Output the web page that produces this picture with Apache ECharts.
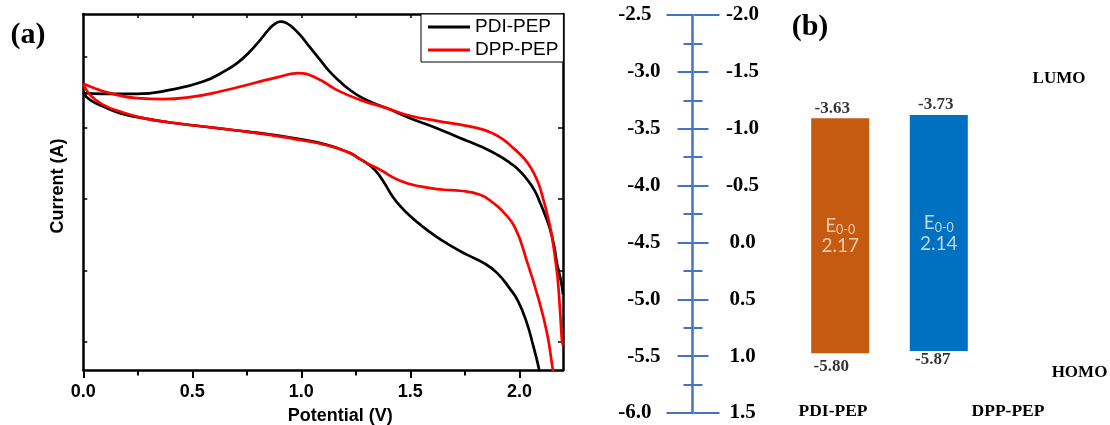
<!DOCTYPE html>
<html><head><meta charset="utf-8">
<script src="https://cdn.jsdelivr.net/npm/echarts@6/dist/echarts.min.js"></script>
<style>html,body{margin:0;padding:0;background:#fff}#c{width:1110px;height:425px}</style>
</head><body><div id="c"></div>
<script>
// ---------- Panel (a): cyclic voltammetry (potential V, current in arbitrary units) ----------
const seriesNames = ['PDI-PEP', 'DPP-PEP'];
const pdiForward = [[0,3.488],[0.092,3.478],[0.245,3.478],[0.398,3.534],[0.55,3.651],[0.658,3.815],[0.71,3.92],[0.76,4.06],[0.81,4.23],[0.85,4.38],[0.88,4.465],[0.905,4.492],[0.93,4.475],[0.96,4.41],[0.994,4.306],[1.04,4.13],[1.086,3.955],[1.13,3.79],[1.177,3.651],[1.22,3.54],[1.269,3.44],[1.33,3.35],[1.392,3.278],[1.499,3.137],[1.621,2.997],[1.728,2.857],[1.79,2.78],[1.85,2.70],[1.9,2.62],[1.942,2.54],[1.99,2.43],[2.034,2.28],[2.07,2.12],[2.095,1.95],[2.12,1.76],[2.141,1.571],[2.16,1.33],[2.172,1.104],[2.185,0.93],[2.195,0.776],[2.2,0.66]];
const pdiReverse = [[2.095,-0.5],[2.087,-0.346],[2.064,-0.066],[2.034,0.262],[1.995,0.56],[1.957,0.74],[1.896,0.968],[1.835,1.104],[1.759,1.22],[1.682,1.35],[1.606,1.50],[1.55,1.63],[1.5,1.76],[1.46,1.88],[1.42,2.03],[1.38,2.23],[1.34,2.40],[1.3,2.506],[1.26,2.58],[1.223,2.647],[1.117,2.763],[0.963,2.857],[0.811,2.927],[0.704,2.964],[0.55,3.02],[0.398,3.076],[0.275,3.137],[0.168,3.208],[0.092,3.3],[0.031,3.394],[0,3.488]];
const dppForward = [[0,3.619],[0.054,3.555],[0.122,3.488],[0.245,3.418],[0.367,3.404],[0.489,3.432],[0.627,3.511],[0.78,3.628],[0.902,3.721],[0.986,3.769],[1.071,3.698],[1.162,3.534],[1.269,3.394],[1.392,3.278],[1.499,3.17],[1.621,3.1],[1.759,3.029],[1.83,2.98],[1.88,2.92],[1.925,2.84],[1.96,2.75],[2.003,2.63],[2.035,2.52],[2.064,2.38],[2.09,2.2],[2.11,1.992],[2.13,1.76],[2.148,1.501],[2.166,1.122],[2.176,0.87],[2.187,0.407],[2.195,0.028],[2.2,-0.056]];
const dppReverse = [[2.16,-0.5],[2.152,-0.365],[2.127,0.112],[2.086,0.617],[2.035,1.122],[1.98,1.599],[1.925,1.823],[1.881,1.945],[1.82,2.062],[1.728,2.118],[1.651,2.132],[1.545,2.178],[1.453,2.258],[1.361,2.412],[1.3,2.506],[1.26,2.58],[1.223,2.647],[1.117,2.756],[0.963,2.847],[0.856,2.903],[0.704,2.964],[0.55,3.02],[0.398,3.076],[0.275,3.137],[0.168,3.23],[0.092,3.324],[0.031,3.464],[0,3.619]];
const xTickValues = [0, 0.5, 1, 1.5, 2];
const xMinorTickValues = [0.25, 0.75, 1.25, 1.75];
const xTopTickValues = [0.25, 0.5, 0.75, 1, 1.25, 1.5, 1.75, 2];
const yTickValues = [0, 1, 2, 3, 4];

// ---------- Panel (b): energy level diagram ----------
const energyEndTicks = [-6, -2.5];          // eV scale (left)
const energyMidLabels = [-5.5, -5, -4.5, -4, -3.5, -3];
const compounds = ['PDI-PEP', 'DPP-PEP'];
const barTop = [-3.408, -3.379];            // bar ends as drawn on the eV scale
const barBottom = [-5.475, -5.455];
const lumoText = ['-3.63', '-3.73'];
const homoText = ['-5.80', '-5.87'];
const gapText = ['2.17', '2.14'];
const levelNames = ['LUMO', 'HOMO'];

const chart = echarts.init(document.getElementById('c'), null, {renderer: 'canvas'});
const serif = 'Liberation Serif', sans = 'Liberation Sans';
const blue = '#4472C4';
const barColors = ['#C55A11', '#0070C0'];
const gapColors = ['#F8CBAD', '#BDD7EE'];
const lumoOffsets = [[-8, 0], [-3, 0]];
const homoOffsets = [[-9, 0], [-6, 0]];
const homoDist = [4, 0];
const fmt1 = v => (Math.abs(v) < 1e-9 ? 0 : Number(v)).toFixed(1);

function cv(name, data, color) {
  return {type: 'line', name, data, xAxisIndex: 0, yAxisIndex: 0, symbol: 'none', showSymbol: false,
    smooth: 0.5, clip: true, lineStyle: {color, width: 2.7}, itemStyle: {color}, z: 3, silent: true};
}

const option = {
  animation: false,
  backgroundColor: '#fff',
  textStyle: {fontFamily: sans},
  grid: [
    {left: 83.3, top: 14, width: 479.7, height: 356, outerBoundsMode: 'none', containLabel: false},
    {left: 692.5, top: 15, width: 1, height: 398, outerBoundsMode: 'none', containLabel: false},
    {left: 790.9, top: 15, width: 197.2, height: 398, outerBoundsMode: 'none', containLabel: false}
  ],
  legend: {
    data: seriesNames, orient: 'vertical', left: 421, top: 14,
    padding: [3, 5, 2, 7], itemGap: 3, itemWidth: 42, itemHeight: 3, icon: 'rect',
    borderColor: '#000', borderWidth: 1, backgroundColor: '#fff', borderRadius: 0,
    textStyle: {fontFamily: sans, fontSize: 19, color: '#000', lineHeight: 20},
    selectedMode: false
  },
  xAxis: [
    {gridIndex: 0, type: 'value', position: 'bottom', min: 0, max: 2.2, interval: 0.5,
      axisLine: {show: true, onZero: false, lineStyle: {color: '#000', width: 2.5}},
      axisTick: {show: true, inside: false, length: 8, customValues: xTickValues, lineStyle: {color: '#000', width: 2}},
      axisLabel: {show: true, customValues: xTickValues, formatter: fmt1, margin: 13,
        fontFamily: sans, fontWeight: 'bold', fontSize: 18, color: '#000'},
      splitLine: {show: false},
      name: 'Potential (V)', nameLocation: 'middle', nameGap: 37, nameMoveOverlap: false,
      nameTextStyle: {fontFamily: sans, fontWeight: 'bold', fontSize: 18, color: '#000', padding: [0, 0, 0, 34]}},
    {gridIndex: 0, type: 'value', position: 'bottom', min: 0, max: 2.2,
      axisLine: {show: false, onZero: false}, axisLabel: {show: false}, splitLine: {show: false},
      axisTick: {show: true, inside: false, length: 5.5, customValues: xMinorTickValues, lineStyle: {color: '#000', width: 2}}},
    {gridIndex: 0, type: 'value', position: 'top', min: 0, max: 2.2,
      axisLine: {show: true, onZero: false, lineStyle: {color: '#000', width: 2.5}}, axisLabel: {show: false}, splitLine: {show: false},
      axisTick: {show: true, inside: true, length: 4, customValues: xTopTickValues, lineStyle: {color: '#000', width: 1.5}}},
    {gridIndex: 1, type: 'value', show: false, min: 0, max: 1, axisLine: {onZero: false}},
    {gridIndex: 2, type: 'category', show: false, data: compounds, axisLine: {onZero: false}}
  ],
  yAxis: [
    {gridIndex: 0, type: 'value', position: 'left', min: -0.4, max: 4.6,
      axisLine: {show: true, onZero: false, lineStyle: {color: '#000', width: 2.5}},
      axisTick: {show: true, inside: true, length: 4, customValues: yTickValues, lineStyle: {color: '#000', width: 1.5}},
      axisLabel: {show: false}, splitLine: {show: false},
      name: 'Current (A)', nameLocation: 'middle', nameGap: 16, nameMoveOverlap: false,
      nameTextStyle: {fontFamily: sans, fontWeight: 'bold', fontSize: 18, color: '#000', padding: [0, 0, 0, 12]}},
    {gridIndex: 0, type: 'value', position: 'right', min: -0.4, max: 4.6,
      axisLine: {show: true, onZero: false, lineStyle: {color: '#000', width: 2.5}},
      axisTick: {show: true, inside: true, length: 5, customValues: yTickValues, lineStyle: {color: '#000', width: 1.5}},
      axisLabel: {show: false}, splitLine: {show: false}},
    // eV scale (left)
    {gridIndex: 1, type: 'value', position: 'left', min: -6, max: -2.5, interval: 0.5,
      axisLine: {show: true, onZero: false, lineStyle: {color: blue, width: 2.5}},
      axisTick: {show: true, inside: false, length: 15, lineStyle: {color: blue, width: 2}},
      minorTick: {show: true, splitNumber: 2, length: 9, lineStyle: {color: blue, width: 2}},
      axisLabel: {show: true, customValues: energyMidLabels, formatter: fmt1, margin: 32,
        fontFamily: serif, fontWeight: 'bold', fontSize: 21, color: '#000'},
      splitLine: {show: false}, minorSplitLine: {show: false}},
    // potential scale (right)
    {gridIndex: 1, type: 'value', position: 'right', min: -2, max: 1.5, interval: 0.5, inverse: true,
      axisLine: {show: false, onZero: false},
      axisTick: {show: true, inside: false, length: 15, lineStyle: {color: blue, width: 2}},
      minorTick: {show: true, splitNumber: 2, length: 9, lineStyle: {color: blue, width: 2}},
      axisLabel: {show: true, formatter: fmt1, margin: 49, align: 'center',
        fontFamily: serif, fontWeight: 'bold', fontSize: 21, color: '#000'},
      splitLine: {show: false}, minorSplitLine: {show: false}},
    // long end ticks
    {gridIndex: 1, type: 'value', position: 'left', min: -6, max: -2.5,
      axisLine: {show: false, onZero: false},
      axisTick: {show: true, inside: false, length: 26, customValues: energyEndTicks, lineStyle: {color: blue, width: 2}},
      axisLabel: {show: true, customValues: energyEndTicks, formatter: fmt1, margin: 41,
        fontFamily: serif, fontWeight: 'bold', fontSize: 21, color: '#000'},
      splitLine: {show: false}},
    {gridIndex: 1, type: 'value', position: 'right', min: -6, max: -2.5,
      axisLine: {show: false, onZero: false}, axisLabel: {show: false}, splitLine: {show: false},
      axisTick: {show: true, inside: false, length: 26, customValues: energyEndTicks, lineStyle: {color: blue, width: 2}}},
    {gridIndex: 2, type: 'value', show: false, min: -6, max: -2.5, splitLine: {show: false}, axisLine: {onZero: false}}
  ],
  series: [
    cv(seriesNames[0], pdiForward, '#000'),
    cv(seriesNames[0], pdiReverse, '#000'),
    cv(seriesNames[1], dppForward, '#FF0000'),
    cv(seriesNames[1], dppReverse, '#FF0000'),
    {type: 'bar', name: 'base', stack: 'e', xAxisIndex: 4, yAxisIndex: 6, barWidth: 58, silent: true,
      data: barTop, itemStyle: {color: 'rgba(0,0,0,0)'}},
    {type: 'bar', name: 'gap', stack: 'e', xAxisIndex: 4, yAxisIndex: 6, barWidth: 58, silent: true,
      data: barTop.map((t, i) => ({
        value: barBottom[i] - t,
        itemStyle: {color: barColors[i]},
        label: {show: true, position: 'inside',
          formatter: '{e|E}{s|0-0}\n{v|' + gapText[i] + '}',
          rich: {
            e: {fontFamily: 'Lato', fontSize: 19, lineHeight: 21, color: gapColors[i]},
            s: {fontFamily: 'Lato', fontSize: 12.5, lineHeight: 13, padding: [9, 0, 0, 0], color: gapColors[i]},
            v: {fontFamily: 'Lato', fontSize: 19, lineHeight: 20, color: gapColors[i]}
          }}
      }))},
    {type: 'scatter', xAxisIndex: 4, yAxisIndex: 6, symbolSize: 1, silent: true,
      itemStyle: {color: 'rgba(0,0,0,0)'},
      data: compounds.map((c, i) => ({value: [c, barTop[i]], label: {offset: lumoOffsets[i]}})),
      label: {show: true, position: 'top', distance: 1, formatter: p => lumoText[p.dataIndex],
        fontFamily: serif, fontWeight: 'bold', fontSize: 17, color: '#000'}},
    {type: 'scatter', xAxisIndex: 4, yAxisIndex: 6, symbolSize: 1, silent: true,
      itemStyle: {color: 'rgba(0,0,0,0)'},
      data: compounds.map((c, i) => ({value: [c, barBottom[i]], label: {offset: homoOffsets[i], distance: homoDist[i]}})),
      label: {show: true, position: 'bottom', formatter: p => homoText[p.dataIndex],
        fontFamily: serif, fontWeight: 'bold', fontSize: 17, color: '#000'}}
  ],
  graphic: [
    {type: 'text', x: 28, y: 35.5, style: {text: '(a)', font: 'bold 30px "Liberation Serif"', fill: '#000', align: 'center', verticalAlign: 'middle', textAlign: 'center', textVerticalAlign: 'middle'}},
    {type: 'text', x: 810, y: 27, style: {text: '(b)', font: 'bold 30px "Liberation Serif"', fill: '#000', align: 'center', verticalAlign: 'middle', textAlign: 'center', textVerticalAlign: 'middle'}},
    {type: 'text', x: 1059, y: 79, style: {text: levelNames[0], font: 'bold 17px "Liberation Serif"', fill: '#000', align: 'center', verticalAlign: 'middle', textAlign: 'center', textVerticalAlign: 'middle'}},
    {type: 'text', x: 1079.5, y: 372.5, style: {text: levelNames[1], font: 'bold 17px "Liberation Serif"', fill: '#000', align: 'center', verticalAlign: 'middle', textAlign: 'center', textVerticalAlign: 'middle'}},
    {type: 'text', x: 833, y: 411.5, style: {text: compounds[0], font: 'bold 17.5px "Liberation Serif"', fill: '#000', align: 'center', verticalAlign: 'middle', textAlign: 'center', textVerticalAlign: 'middle'}},
    {type: 'text', x: 1008, y: 411.5, style: {text: compounds[1], font: 'bold 17.5px "Liberation Serif"', fill: '#000', align: 'center', verticalAlign: 'middle', textAlign: 'center', textVerticalAlign: 'middle'}}
  ]
};
chart.setOption(option);
</script>
</body></html>
